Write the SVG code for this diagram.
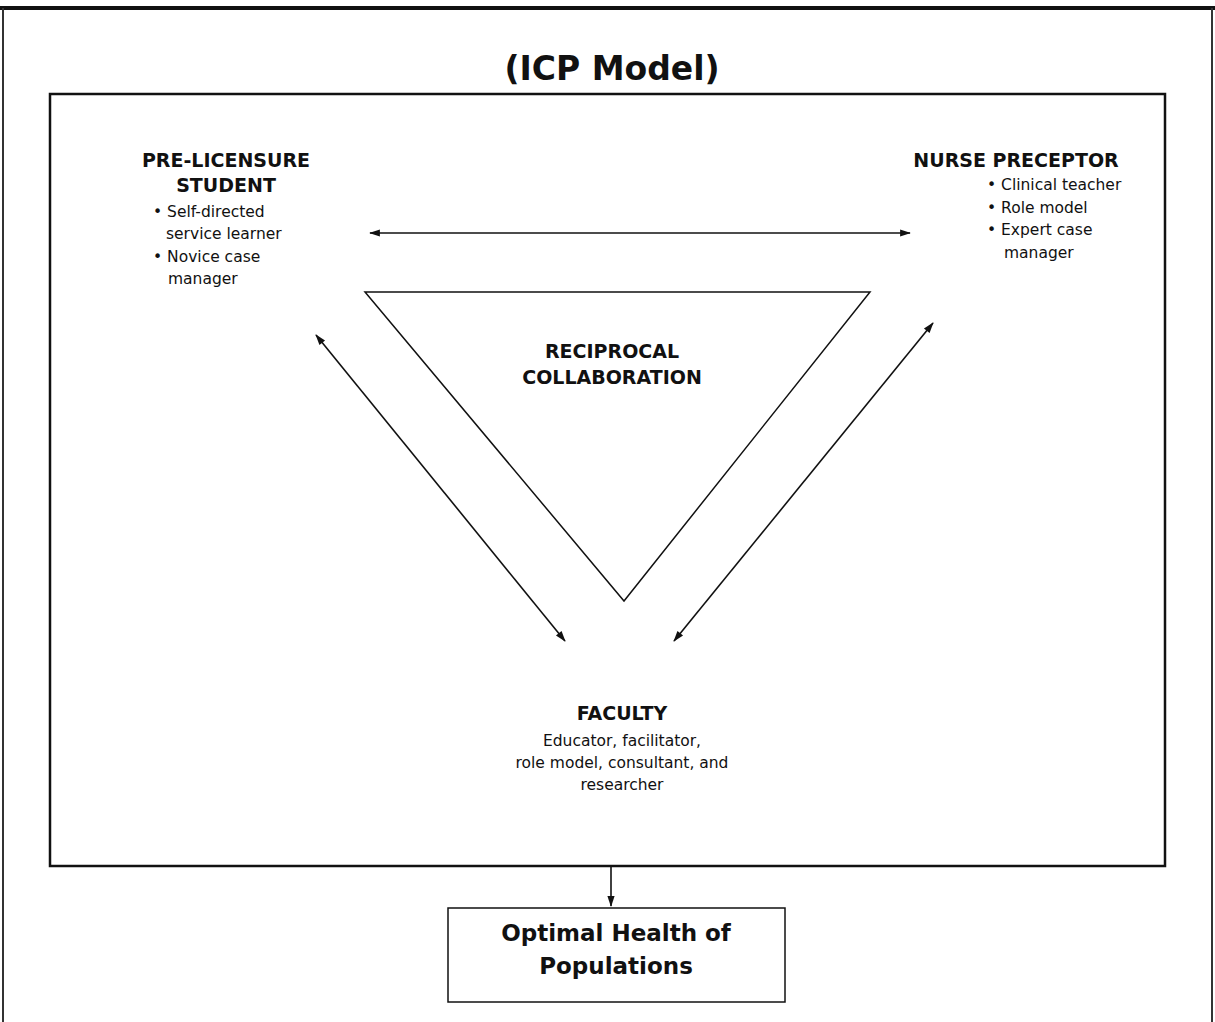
<svg xmlns="http://www.w3.org/2000/svg" width="1215" height="1022" viewBox="0 0 1215 1022">
<style>
text{font-family:"DejaVu Sans",Verdana,sans-serif;fill:#111}
.h{font-weight:bold;font-size:19px}
.b{font-size:15.5px}
.ln{stroke:#111;fill:none}
</style>
<defs>
<marker id="a" viewBox="0 0 12 10" refX="11" refY="5" markerWidth="13" markerHeight="9" orient="auto-start-reverse" markerUnits="userSpaceOnUse">
<path d="M0,1 L12,5 L0,9 z" fill="#111"/>
</marker>
</defs>
<rect width="1215" height="1022" fill="#fff"/>
<g id="frame">
<line x1="0" y1="8" x2="1215" y2="8" stroke="#111" stroke-width="4"/>
<line x1="3" y1="8" x2="3" y2="1022" stroke="#333" stroke-width="2"/>
<line x1="1212" y1="8" x2="1212" y2="1022" stroke="#333" stroke-width="2"/>
</g>
<g id="title"><text x="612" y="80" text-anchor="middle" font-weight="bold" font-size="33">(ICP Model)</text></g>
<g id="model-box"><rect x="50" y="94" width="1115" height="772" class="ln" stroke-width="2.5"/></g>
<g id="triangle"><polygon points="365,292 870,292 624,601" class="ln" stroke-width="1.5"/></g>
<g id="student">
<text class="h" x="226" y="167" text-anchor="middle">PRE-LICENSURE</text>
<text class="h" x="226" y="192" text-anchor="middle">STUDENT</text>
<text class="b" x="153" y="217">• Self-directed</text>
<text class="b" x="166" y="239">service learner</text>
<text class="b" x="153" y="262">• Novice case</text>
<text class="b" x="168" y="284">manager</text>
</g>
<g id="preceptor">
<text class="h" x="1016" y="167" text-anchor="middle">NURSE PRECEPTOR</text>
<text class="b" x="987" y="190">• Clinical teacher</text>
<text class="b" x="987" y="213">• Role model</text>
<text class="b" x="987" y="235">• Expert case</text>
<text class="b" x="1004" y="258">manager</text>
</g>
<g id="reciprocal">
<text class="h" x="612" y="358" text-anchor="middle">RECIPROCAL</text>
<text class="h" x="612" y="384" text-anchor="middle">COLLABORATION</text>
</g>
<g id="faculty">
<text class="h" x="622" y="720" text-anchor="middle">FACULTY</text>
<text class="b" x="622" y="746" text-anchor="middle">Educator, facilitator,</text>
<text class="b" x="622" y="768" text-anchor="middle">role model, consultant, and</text>
<text class="b" x="622" y="790" text-anchor="middle">researcher</text>
</g>
<g id="outcome">
<rect x="448" y="908" width="337" height="94" class="ln" stroke-width="1.5"/>
<text x="616" y="941" text-anchor="middle" font-weight="bold" font-size="23">Optimal Health of</text>
<text x="616" y="974" text-anchor="middle" font-weight="bold" font-size="23">Populations</text>
</g>
<g id="connectors" class="ln" stroke-width="1.6">
<line x1="370" y1="233" x2="910" y2="233" marker-start="url(#a)" marker-end="url(#a)"/>
<line x1="316" y1="335" x2="565" y2="641" marker-start="url(#a)" marker-end="url(#a)"/>
<line x1="933" y1="323" x2="674" y2="641" marker-start="url(#a)" marker-end="url(#a)"/>
<line x1="611" y1="866" x2="611" y2="906" marker-end="url(#a)"/>
</g>
</svg>
